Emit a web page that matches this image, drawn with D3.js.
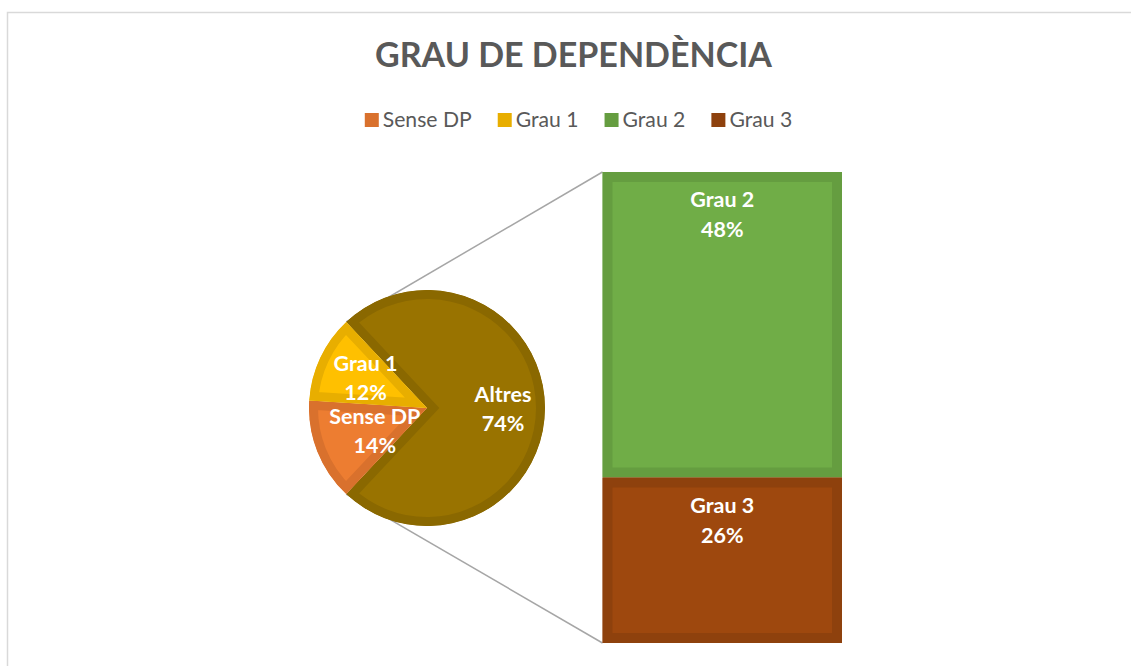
<!DOCTYPE html>
<html>
<head>
<meta charset="utf-8">
<script src="https://cdn.jsdelivr.net/npm/d3@7"></script>
<style>
  body { margin: 0; background: #fff; }
  svg { display: block; font-family: Lato, "Open Sans", sans-serif; }
</style>
</head>
<body>
<svg id="chart" width="1131" height="666"></svg>
<script>
// data
const pieCats = ["Sense DP", "Grau 1", "Altres"]
const pieVals = [14, 12, 74]
const barCats = ["Grau 2", "Grau 3"]
const barVals = [48, 26]
const legendCats = ["Sense DP", "Grau 1", "Grau 2", "Grau 3"]

const fills = {"Sense DP": "#ed7d31", "Grau 1": "#ffc000", "Grau 2": "#70ad47", "Grau 3": "#9e480e", "Altres": "#997300"}
const borders = {"Sense DP": "#d9712d", "Grau 1": "#e8ae00", "Grau 2": "#659d40", "Grau 3": "#8e410d", "Altres": "#8a6800"}

const svg = d3.select("#chart")
const W = 1131, H = 666

// measure a string at a given size, return size that gives target width
function fitSize(str, weight, target) {
    const t = svg.append("text").style("font-weight", weight).style("font-size", "20px").text(str)
    const w = t.node().getComputedTextLength()
    t.remove()
    return 20 * target / w
}

// outer chart frame
svg.append("rect")
    .attr("x", 7.5).attr("y", 12.5)
    .attr("width", W + 20).attr("height", H + 20)
    .attr("fill", "#fff")
    .attr("stroke", "#d9d9d9")
    .attr("stroke-width", 1.5)

// title
svg.append("text")
    .attr("x", 573.5).attr("y", 67)
    .attr("text-anchor", "middle")
    .attr("fill", "#595959")
    .style("font-weight", "bold")
    .style("font-size", fitSize("GRAU DE DEPENDÈNCIA", "bold", 397) + "px")
    .text("GRAU DE DEPENDÈNCIA")

// legend
const legSize = fitSize("Sense DP", "normal", 89)
const legend = svg.append("g")
let lx = 0
legendCats.forEach(c => {
    const g = legend.append("g").attr("transform", "translate(" + lx + ",0)")
    g.append("rect").attr("x", 0).attr("y", -7).attr("width", 14).attr("height", 14)
        .attr("fill", borders[c])
    const t = g.append("text").attr("x", 18).attr("y", 7)
        .attr("fill", "#595959").style("font-size", legSize + "px").text(c)
    lx += 18 + t.node().getComputedTextLength() + 26
})
const legW = lx - 26
legend.attr("transform", "translate(" + (578.5 - legW / 2) + ",120)")

const lblSize = fitSize("Grau 2", "bold", 64)

// pie + bar geometry
const cx = 427, cy = 408, r = 118
const barX = d3.scaleBand().domain(["bar"]).range([602.5, 842]).padding(0)
const barTotal = d3.sum(barVals)
const fy = d3.scaleLinear().domain([0, barTotal]).range([172, 643])

const pieData = [2, 0, 1].map(i => ({cat: pieCats[i], v: pieVals[i]}))
const altresShare = pieVals[2] / d3.sum(pieVals)
const start = Math.PI / 2 - altresShare * Math.PI
const arcs = d3.pie().sort(null).value(d => d.v)
    .startAngle(start).endAngle(start + 2 * Math.PI)(pieData)

const arc = d3.arc().innerRadius(0).outerRadius(r)
const labelArc = d3.arc().innerRadius(68).outerRadius(68)
const nudge = {"Altres": [8, 0], "Sense DP": [11, -3], "Grau 1": [0, -2]}

// connector lines (behind)
const altres = arcs[0]
const pt = a => [cx + r * Math.sin(a), cy - r * Math.cos(a)]
const p1 = pt(altres.startAngle), p2 = pt(altres.endAngle)
svg.append("line")
    .attr("x1", p1[0]).attr("y1", p1[1])
    .attr("x2", barX("bar")).attr("y2", fy(0))
    .attr("stroke", "#a6a6a6").attr("stroke-width", 1.5)
svg.append("line")
    .attr("x1", p2[0]).attr("y1", p2[1])
    .attr("x2", barX("bar")).attr("y2", fy(barTotal))
    .attr("stroke", "#a6a6a6").attr("stroke-width", 1.5)

const defs = svg.append("defs")
const pieG = svg.append("g").attr("transform", "translate(" + cx + "," + cy + ")")
arcs.forEach((d, i) => {
    defs.append("clipPath").attr("id", "clipP" + i)
        .append("path").attr("d", arc(d))
    pieG.append("path")
        .attr("d", arc(d))
        .attr("fill", fills[d.data.cat])
        .attr("stroke", borders[d.data.cat])
        .attr("stroke-width", 18)
        .attr("clip-path", "url(#clipP" + i + ")")
})

arcs.forEach(d => {
    const c = labelArc.centroid(d)
    const n = nudge[d.data.cat]
    const t = pieG.append("text")
        .attr("text-anchor", "middle")
        .attr("fill", "#fff")
        .style("font-weight", "bold")
        .style("font-size", lblSize + "px")
    t.append("tspan").attr("x", c[0] + n[0]).attr("y", c[1] + n[1] - 6).text(d.data.cat)
    t.append("tspan").attr("x", c[0] + n[0]).attr("y", c[1] + n[1] + 23).text(d.data.v + "%")
})

// stacked bar
let acc = 0
const segs = barCats.map((c, i) => {
    const s = {cat: c, v: barVals[i], y0: acc, y1: acc + barVals[i]}
    acc += barVals[i]
    return s
})
segs.forEach((s, i) => {
    const x = barX("bar"), w = barX.bandwidth()
    const y = fy(s.y0), h = fy(s.y1) - fy(s.y0)
    defs.append("clipPath").attr("id", "clipB" + i)
        .append("rect").attr("x", x).attr("y", y).attr("width", w).attr("height", h)
    svg.append("rect")
        .attr("x", x).attr("y", y).attr("width", w).attr("height", h)
        .attr("fill", fills[s.cat])
        .attr("stroke", borders[s.cat])
        .attr("stroke-width", 20)
        .attr("clip-path", "url(#clipB" + i + ")")
    const t = svg.append("text")
        .attr("text-anchor", "middle")
        .attr("fill", "#fff")
        .style("font-weight", "bold")
        .style("font-size", lblSize + "px")
    t.append("tspan").attr("x", x + w / 2).attr("y", y + 35).text(s.cat)
    t.append("tspan").attr("x", x + w / 2).attr("y", y + 65).text(s.v + "%")
})
</script>
</body>
</html>
